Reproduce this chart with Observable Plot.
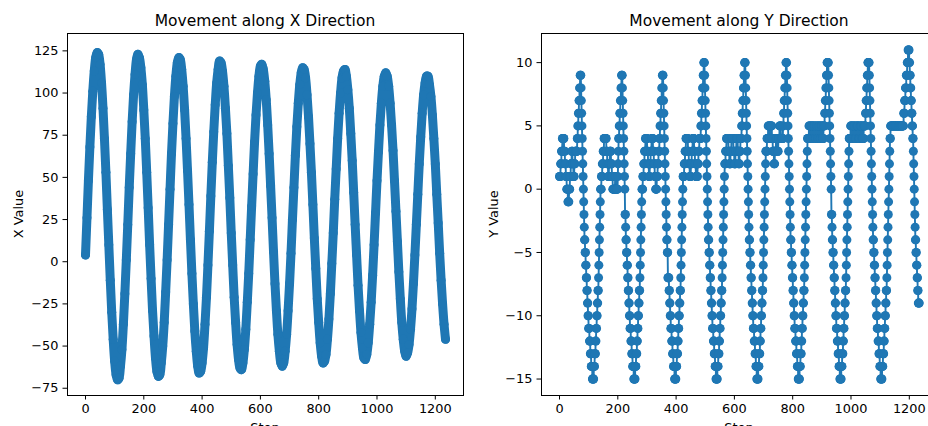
<!DOCTYPE html>
<html><head><meta charset="utf-8">
<script src="https://cdn.jsdelivr.net/npm/d3@7"></script>
<script src="https://cdn.jsdelivr.net/npm/@observablehq/plot@0.6"></script>
<style>
html,body{margin:0;padding:0;background:#fff;overflow:hidden;width:928px;height:426px;}
#wrap{position:relative;width:928px;height:426px;overflow:hidden;background:#fff;}
.panel{position:absolute;top:0;height:440px;}
.panel svg{max-width:none !important;display:block;}
</style></head><body>
<div id="wrap"><div id="left" class="panel" style="left:0px;width:464px"></div><div id="right" class="panel" style="left:464px;width:474px"></div></div>
<script>
// ---- data ----
// X value, sampled every 5 steps (step 0, 5, 10, ... 1235)
const xSampleEvery = 5;
const xValues = [
  4,26,48,68,86,101,113,121,124,123,117,106,91,73,53,31,10,-11,-30,-46,
  -59,-67,-70,-69,-62,-52,-37,-19,1,22,44,64,83,99,111,120,123,121,115,105,
  90,73,53,32,10,-10,-29,-44,-57,-65,-68,-67,-60,-50,-36,-18,1,22,43,64,
  82,98,110,118,121,120,114,104,90,73,54,34,13,-7,-25,-41,-53,-62,-66,-65,
  -60,-51,-37,-21,-2,18,39,59,77,93,106,114,119,118,113,104,91,76,57,38,
  17,-2,-21,-36,-49,-58,-63,-64,-60,-52,-40,-24,-7,13,33,52,71,87,100,110,
  116,117,114,107,96,81,64,45,26,6,-13,-29,-43,-53,-60,-62,-60,-53,-43,-29,
  -13,5,25,44,63,80,94,105,112,115,114,109,99,86,70,53,34,14,-4,-22,
  -36,-48,-56,-60,-59,-55,-46,-34,-19,-1,17,37,55,73,88,100,109,113,114,110,
  102,91,76,60,41,22,4,-14,-29,-42,-51,-57,-58,-55,-48,-37,-24,-8,10,29,
  48,65,81,94,104,110,112,110,104,94,81,66,48,30,12,-6,-22,-36,-46,-53,
  -56,-54,-49,-40,-28,-13,4,22,40,58,74,88,99,106,110,110,105,98,87,73,
  58,40,23,5,-11,-25,-37,-46
];
// Y value as runs: [value, number of consecutive steps], starting at step 0
const yRuns = [
  // cycle 1
  [1,4],[2,3],[3,3],[4,6],[3,3],[2,3],[1,3],[0,4],[-1,4],[0,3],[1,3],[2,3],[3,3],[2,3],[1,3],[2,3],[3,7],
  [4,2],[5,2],[6,2],[7,2],[8,2],[9,3],
  [8,1],[7,1],[6,1],[5,1],[4,1],[3,1],[2,1],[1,1],[0,1],[-1,1],[-2,1],[-3,1],[-4,2],[-5,2],[-6,2],[-7,2],[-8,2],[-9,2],[-10,2],[-11,3],[-12,3],[-13,3],[-14,4],[-15,5],
  // cycle 2
  [-14,3],[-13,3],[-12,2],[-11,2],[-10,2],[-9,2],[-8,2],[-7,1],[-6,1],[-5,1],[-4,1],[-3,1],[-2,1],[-1,1],
  [0,3],[1,3],[2,3],[3,3],[4,8],[3,3],[2,3],[1,3],[2,3],[3,4],[2,3],[1,3],[0,8],[1,3],[0,6],
  [1,1],[2,1],[3,1],[4,2],[5,2],[6,2],[7,2],[8,2],[9,3],
  [8,1],[7,1],[6,1],[5,1],[4,1],[3,1],[2,1],[1,1],[0,1],[-2,2],[-3,1],[-4,2],[-5,2],[-6,2],[-7,2],[-8,2],[-9,2],[-10,2],[-11,3],[-12,3],[-13,3],[-14,4],[-15,5],
  // cycle 3
  [-14,3],[-13,3],[-12,2],[-11,2],[-10,2],[-9,2],[-8,2],[-7,1],[-6,1],[-5,1],[-4,1],[-3,1],[-2,1],[-1,1],
  [0,3],[1,3],[2,3],[3,3],[4,6],[3,3],[2,3],[1,3],[2,3],[3,3],[4,5],[3,3],[2,3],[1,3],[0,4],[1,3],[2,3],[3,3],
  [4,2],[5,2],[6,2],[7,2],[8,2],[9,3],
  [8,1],[7,1],[6,1],[5,1],[4,1],[3,1],[2,1],[1,1],[0,1],[-1,1],[-2,1],[-3,1],[-4,2],[-5,2],[-7,4],[-8,2],[-9,2],[-10,2],[-11,3],[-12,3],[-13,3],[-14,4],[-15,5],
  // cycle 4
  [-14,3],[-13,3],[-12,2],[-11,2],[-10,2],[-9,2],[-8,2],[-7,1],[-6,1],[-5,1],[-4,1],[-3,1],[-2,1],[-1,1],[0,1],
  [1,4],[2,3],[3,3],[4,7],[3,3],[2,3],[1,4],[2,3],[3,3],[4,5],[3,3],[2,3],[1,6],[2,3],[3,3],[4,5],
  [5,2],[6,2],[7,2],[8,2],[9,2],[10,3],
  [9,1],[8,1],[7,1],[6,1],[5,1],[4,1],[3,1],[2,1],[1,1],[0,1],[-1,1],[-2,1],[-3,1],[-4,2],[-5,2],[-6,2],[-7,2],[-8,2],[-9,2],[-10,2],[-11,3],[-12,3],[-13,3],[-14,3],[-15,5],
  // cycle 5
  [-14,3],[-13,3],[-12,2],[-11,2],[-10,2],[-9,2],[-8,2],[-7,1],[-6,1],[-5,1],[-4,1],[-3,1],[-2,1],[-1,1],[0,1],[1,1],
  [2,3],[3,3],[4,7],[3,3],[2,4],[3,3],[4,7],[3,3],[2,4],[3,3],[4,5],[3,3],[2,3],[3,3],[4,4],
  [5,2],[6,2],[7,2],[8,2],[9,2],[10,3],
  [9,1],[8,1],[7,1],[6,1],[5,1],[4,1],[3,1],[2,1],[1,1],[0,1],[-1,1],[-2,1],[-3,1],[-4,2],[-5,2],[-6,2],[-7,2],[-8,2],[-9,2],[-10,2],[-11,3],[-12,3],[-13,3],[-14,3],[-15,5],
  // cycle 6
  [-14,3],[-13,3],[-12,2],[-11,2],[-10,2],[-9,2],[-8,2],[-7,1],[-6,1],[-5,1],[-4,1],[-3,1],[-2,1],[-1,1],[0,1],[1,1],[2,1],
  [3,4],[4,4],[5,5],[4,3],[5,5],[4,3],[3,4],[2,3],[3,4],[4,5],[3,3],[4,4],[5,5],[4,7],
  [5,2],[6,2],[7,2],[8,2],[9,2],[10,3],
  [9,1],[8,1],[7,1],[6,1],[5,1],[4,1],[3,1],[2,1],[1,1],[0,1],[-1,1],[-2,1],[-3,1],[-4,2],[-5,2],[-6,2],[-7,2],[-8,2],[-9,2],[-10,2],[-11,3],[-12,3],[-13,3],[-14,3],[-15,5],
  // cycle 7
  [-14,3],[-13,3],[-12,2],[-11,2],[-10,2],[-9,2],[-8,2],[-7,1],[-6,1],[-5,1],[-4,1],[-3,1],[-2,1],[-1,1],[0,1],[1,1],[2,1],[3,1],
  [4,5],[5,4],[4,4],[5,5],[4,4],[5,4],[4,5],[5,4],[4,4],[5,4],[4,4],[5,4],[4,4],[5,4],
  [6,2],[7,2],[8,2],[9,2],[10,5],
  [9,1],[8,1],[7,1],[6,1],[5,1],[4,1],[3,1],[2,1],[1,1],[0,1],[-2,2],[-3,1],[-4,2],[-5,2],[-6,2],[-7,2],[-8,2],[-9,2],[-10,2],[-11,3],[-12,3],[-13,3],[-14,3],[-15,5],
  // cycle 8
  [-14,3],[-13,3],[-12,2],[-11,2],[-10,2],[-9,2],[-8,2],[-7,1],[-6,1],[-5,1],[-4,1],[-3,1],[-2,1],[-1,1],[0,1],[1,1],[2,1],[3,1],
  [4,5],[5,5],[4,5],[5,5],[4,6],[5,6],[4,6],[5,6],[4,6],[5,6],
  [6,2],[7,2],[8,2],[9,2],[10,5],
  [9,1],[8,1],[7,1],[6,1],[5,1],[4,1],[3,1],[2,1],[1,1],[0,1],[-1,1],[-2,1],[-3,1],[-4,2],[-5,2],[-6,2],[-7,2],[-8,2],[-9,2],[-10,2],[-11,3],[-12,3],[-13,3],[-14,3],[-15,5],
  // cycle 9
  [-14,3],[-13,3],[-12,2],[-11,2],[-10,2],[-9,2],[-8,2],[-7,1],[-6,1],[-5,1],[-4,1],[-3,1],[-2,1],[-1,1],[0,1],[1,1],[2,1],[3,1],[4,2],
  [5,45],
  [6,3],[7,3],[8,3],[9,3],[10,3],[11,4],
  [10,2],[9,2],[8,2],[7,2],[6,2],[5,2],[4,2],[3,1],[2,1],[1,1],[0,1],[-1,1],[-2,1],[-3,1],[-4,2],[-5,2],[-6,2],[-7,2],[-8,2],[-9,4]
];
const xTicks = [0, 200, 400, 600, 800, 1000, 1200];
const leftYTicks = [-75, -50, -25, 0, 25, 50, 75, 100, 125];
const rightYTicks = [-15, -10, -5, 0, 5, 10];
const titles = ["Movement along X Direction", "Movement along Y Direction"];
const yLabels = ["X Value", "Y Value"];
const xLabel = "Step";

// ---- build tables ----
const xData = xValues.map((v, i) => ({step: i * xSampleEvery, value: v}));
const yData = [];
{ let s = 0; for (const [v, n] of yRuns) for (let k = 0; k < n; k++) yData.push({step: s++, value: v}); }

const blue = "#1f77b4";
const fmt = d => d < 0 ? "\u2212" + (-d) : String(d);
const xDomain = [-61.75, 1296.75];
const common = {
  height: 440, marginTop: 33, marginBottom: 45,
  style: {fontFamily: "'DejaVu Sans', sans-serif", fontSize: "12.9px", color: "black", background: "white", maxWidth: "none"}
};
function axes(yt) {
  return [
    Plot.axisX({ticks: xTicks, tickSize: 4.5, tickPadding: 3.5, label: null, tickFormat: fmt}),
    Plot.axisY({ticks: yt, tickSize: 4.5, tickPadding: 4.5, label: null, tickFormat: fmt}),
    Plot.frame({stroke: "black", strokeWidth: 1})
  ];
}

const left = Plot.plot({
  ...common, width: 464, marginLeft: 67, marginRight: 1,
  x: {domain: xDomain}, y: {domain: [-79.3, 135.3]},
  marks: [
    Plot.line(xData, {x: "step", y: "value", stroke: blue, strokeWidth: 9, curve: "catmull-rom", strokeLinejoin: "round", strokeLinecap: "round"}),
    Plot.dot(xData, {x: "step", y: "value", r: 4.5, fill: blue}),
    ...axes(leftYTicks)
  ]
});
const right = Plot.plot({
  ...common, width: 474, marginLeft: 77, marginRight: 1,
  x: {domain: xDomain}, y: {domain: [-16.3, 12.3]},
  marks: [
    Plot.line(yData, {x: "step", y: "value", stroke: blue, strokeWidth: 1.9}),
    Plot.dot(yData, {x: "step", y: "value", r: 4.5, fill: blue}),
    ...axes(rightYTicks)
  ]
});
document.getElementById("left").appendChild(left);
document.getElementById("right").appendChild(right);

function decorate(svg, cx, ylx, title, ylab) {
  const s = d3.select(svg);
  s.append("text").attr("x", cx).attr("y", 25.5).attr("text-anchor", "middle")
    .attr("font-size", "15.5px").attr("fill", "black").text(title);
  s.append("text").attr("transform", `translate(${ylx},214) rotate(-90)`).attr("text-anchor", "middle")
    .attr("font-size", "12.9px").attr("fill", "black").text(ylab);
  s.append("text").attr("x", cx).attr("y", 432).attr("text-anchor", "middle")
    .attr("font-size", "12.9px").attr("fill", "black").text(xLabel);
}
decorate(left, 265, 23, titles[0], yLabels[0]);
decorate(right, 275, 34, titles[1], yLabels[1]);
</script>
</body></html>
